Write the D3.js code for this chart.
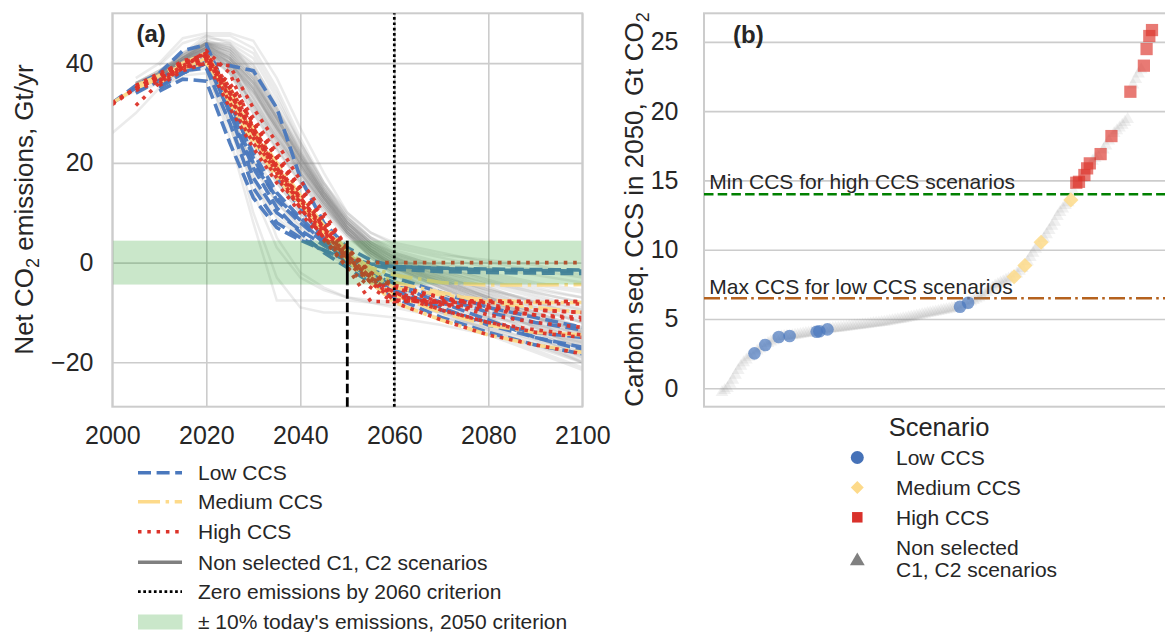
<!DOCTYPE html>
<html><head><meta charset="utf-8">
<script src="https://cdn.jsdelivr.net/npm/d3@7"></script>
<style>
body{margin:0;background:#fff}
svg text{font-family:"Liberation Sans",Arial,Helvetica,sans-serif;fill:#262626}
</style>
</head><body>
<svg id="c" width="1165" height="632"></svg>
<script>
const N = null;
// ---------- Panel (a) data ----------
const years = [2000,2005,2010,2015,2020,2025,2030,2035,2040,2045,2050,2055,2060,2070,2080,2090,2100];
const xTicksA = [2000,2020,2040,2060,2080,2100];
const yTicksA = [-20,0,20,40];
const lowCCS = [
 [N,N,35,38,40,39.5,38.5,31,17,8,3,0.5,-0.8,-1.2,-1.5,-1.6,-1.7],
 [32,35.5,38,42.5,43.7,33,21,12.5,8,4,1,-0.3,-0.8,-1.1,-1.3,-1.4,-1.5],
 [N,N,34.4,36.8,36.4,24,13,7,4.5,2.5,0.5,-2,-4,-7,-10,-12,-13.5],
 [N,34,36.5,39,40.5,30,17,10,6.5,3.5,0.5,-2,-4.5,-8,-11.5,-15,-17.5],
 [N,N,36,39,41,32,22,14,9,4.5,0,-3,-6,-9.5,-12,-14,-15],
 [32,35,37,39,41,30,19,11,6,2,-1,-4,-7,-11,-14,-16.5,-18.3],
 [N,N,35.5,38,40,34,25,17,11,5,1,-1.5,-3,-6,-9,-11,-13],
 [N,34.5,36.5,38.5,39,28,15,8,5,2.5,0.5,-0.5,-1.3,-1.8,-2,-2.1,-2.2],
 [N,N,36,38,40,31,20,13,8.5,4,1,-3,-5.5,-9,-12.5,-15,-17]
];
const mediumCCS = [
 [N,35,37,39.5,41,33,25,18,12,6.5,2,-1,-2.5,-4,-4.5,-4.5,-4.4],
 [32,35,37.5,40,42,34,26,19,13,7,2,-2.5,-5,-6.5,-7.5,-8,-8],
 [N,35.5,37.5,39.5,40.5,32,24,17,11.5,6,1.5,-3,-6.5,-10,-12.5,-14,-14.5],
 [N,N,36,39,41,33,25,18,12,6,0.5,-4,-8,-11.5,-14.5,-16.5,-18],
 [N,35,37,39,40,35,27,20,13.5,7.5,2.5,-1.5,-4,-6,-8,-9,-10]
];
const highCCS = [
 [32,35,37,39.5,42,34,26,18,11,5,1,0,0,0,0,0,0],
 [N,31.5,36,39,41,33,26,19,12,5,-1,-7.8,-7.8,-7.8,-7.8,-7.8,-7.8],
 [N,N,36,39,42.5,38,27,19,13,7,1,-4,-7.5,-8,-8,-8.2,-8.3],
 [N,35,37,40,41,35,28,21,15,9,3,-2,-5,-7,-8.5,-9.5,-10],
 [31.7,35,37.5,40,41.5,32,24,17,11,5,0,-4,-6.5,-8.5,-9.5,-10.5,-11],
 [N,35.5,37,39,40,39.5,31,24,16.5,10,3,-2.5,-5,-8,-10.5,-12,-13],
 [N,N,36.5,39.5,42,33,25,18,12,6,1,-3,-6,-9.5,-12,-14,-15],
 [N,34.5,36.5,39,40.5,31,23,16,10,4.5,-1,-5,-8,-11.5,-14.5,-16.5,-18.3],
 [32,35,37,40,41,35,28,21,14,7,1,-3,-7.6,-7.6,-7.7,-7.8,-7.8],
 [N,35,37.5,40.5,41.5,34,26,19,12.5,6.5,0.5,-3.5,-6,-8.3,-9,-9.5,-10],
 [N,N,35.5,38.5,40,36,29,22,15,8,2,-2,-4.5,-7,-9,-10.5,-11.5],
 [N,35.5,38,40,42,35,27,19.5,13,7,1.5,-3,-6.5,-9.5,-12,-13.5,-14.5]
];
const nonSelected = [
 [N,37,40,45,46,46,44.5,37,27,18,10,6,4,2,0,-1.5,-3],
 [N,N,39.5,44,45.5,45.5,43,35,25,16,9,5,3,1,-1,-2.5,-4],
 [N,35.5,38,41,44,44,41,33,24,16,10,6,3.5,1.5,0.5,-0.5,-2.5],
 [N,N,37.5,41,44.5,43.5,40,31,22,14,8,4,2,-0.5,-2.5,-4.5,-6],
 [N,36,38.5,41.5,45,44.5,42,34,24,15,8,3.5,1,-2,-4,-6,-8],
 [N,N,38,42,45.5,44,38,30,22,15,9,5,2.5,0,-2,-4,-5.5],
 [N,35,37.5,41,44,43,39,31,23,15.5,9,4.5,1.5,-1.5,-4,-6.5,-9],
 [N,N,37,40.5,44,42.5,37,29,21,14,8.5,4.5,2,-1,-3.5,-5.5,-7],
 [N,35.5,38,41,43.5,41,36,28,20,13,7.5,3.5,1,-2,-5,-8,-11],
 [N,N,37,40,43,40,34,27,19.5,13,7,3,0.5,-3,-6,-9,-12],
 [N,35,37.5,40.5,43,41.5,35,26,18,11.5,6,2.5,0,-3.5,-7,-10,-13],
 [N,N,37.5,41,44,41,33,25,18,12,6.5,2,-0.5,-4,-7.5,-11,-14],
 [N,36,38,41,43,39,32,25,19,13,7,3,0.5,-2.5,-5.5,-8,-10],
 [N,N,36.5,40,42.5,40,33,26,19,12,6,2,-1,-4.5,-8,-11.5,-15],
 [N,35.5,37.5,40,42,39.5,34,27,20,13.5,8,4,1.5,-1,-3.5,-6,-8],
 [N,N,37,40.5,43,40.5,35,28,21,14,7.5,3,0,-3.5,-7,-10.5,-14],
 [N,35,37,40,42.5,39,32,24,17,11,5.5,1.5,-1.5,-5,-8.5,-12,-15.5],
 [N,N,37.5,40.5,43.5,41,36,29,21.5,14,7,2.5,-0.5,-4,-7.5,-11,-14.5],
 [N,36,38,41.5,44,40,31,23,16,10,5,1.5,-1,-4,-7,-10,-13],
 [N,N,37,40,42.5,38,30,23,16.5,11,6,2,-1,-5,-9,-13,-17],
 [N,35.5,37.5,40.5,43,40,34,26.5,19,12.5,6.5,2.5,-0.5,-3,-5.5,-7.5,-9.5],
 [N,N,37,40,42,39,33,25.5,18.5,12,6,1.5,-2,-6,-10,-13.5,-16.5],
 [N,35,37,39.5,41.5,38,32,25,18,11.5,5.5,1,-2.5,-6.5,-10.5,-14,-17],
 [N,N,36.5,39.5,42,40,35,27.5,20,13,6.5,2,-1,-4.5,-8,-11,-13.5],
 [N,35.5,38,41,43,39,31,24,17.5,11.5,6,2,-1.5,-5.5,-9.5,-13,-16],
 [N,N,37.5,41,44,42,37,29,21,13.5,7,2.5,-1,-5,-9,-12.5,-15.5],
 [N,36,38,40.5,42.5,38.5,31.5,24.5,18,12,6.5,2.5,-0.5,-3.5,-6.5,-9.5,-12],
 [N,N,36.5,39.5,42,38,30,22.5,16,10.5,5.5,1.5,-2,-6,-10,-14,-18],
 [N,35,37.5,40.5,43,40.5,34.5,27,19.5,12.5,6,1,-2.5,-7,-11,-15,-19],
 [N,N,37,40.5,43.5,41.5,36.5,29,21,13,6,1,-2,-6.5,-11,-15.5,-20],
 [N,35,37,39.5,41,33,24,16,10,5,1,-2.5,-5.5,-10,-14,-17.5,-21],
 [N,N,36,39,40,30,20,12,7,3,0,-3,-6,-10.5,-14.5,-18,-21.5],
 [N,35,37,39,40.5,31,22,14,8.5,4,0.5,-2,-4.5,-8.5,-12.5,-16,-19],
 [32,34.5,36.5,38.5,39.5,28,17,10,5.5,2.5,0,-2.5,-5,-9,-13,-16.5,-20],
 [N,N,35,37.5,38,27,16,9,5,2,-0.5,-3,-6,-10,-13.5,-16.5,-19.5],
 [26,30,35,38,40,32,23,16,10,5,1,-2,-4.5,-8,-11.5,-14.5,-17],
 [N,34,36,38.5,40,30,19,12,7.5,4,1.5,-1,-3.5,-7.5,-11.5,-15,-18.5],
 [N,35,37,39.5,41,34,26,18,11.5,6,1.5,-2,-5,-9.5,-13.5,-17,-20],
 [N,N,36,38,39,25,8,-7.6,-7.6,-7.6,-7.6,-8,-8.5,-10,-12,-14,-16],
 [N,35,37,39,40,28,10,-3,-9,-10,-10,-10.5,-11,-12.5,-14.5,-16.5,-18.5],
 [N,N,36.5,39,40,32,18,5,-2,-5,-7,-8,-9,-11,-13,-15.5,-18],
 [N,35.5,37.5,39.5,40.5,30,14,3,-3,-5.5,-7,-7.5,-8,-9.5,-11,-12.5,-14],
 [N,N,38,42,44.5,43,38,30,22,14.5,8,4,1.5,-1.5,-4.5,-7,-9.5],
 [N,36,38.5,42,44,42,36,28,20.5,13.5,7.5,3.5,1,-2,-5,-8,-10.5],
 [N,N,37.5,41,43.5,42.5,37.5,29.5,22,14.5,8.5,4,1,-2.5,-6,-9,-12],
 [N,35.5,38,41.5,44,43,38.5,31,23,15,8.5,4,1,-3,-7,-11,-15],
 [N,N,37,40.5,43,41,35.5,27.5,20,13,7,3,0,-4,-8,-12,-16],
 [N,36,38,41,43.5,42,37,29,21,13.5,7,2.5,-0.5,-4.5,-8.5,-12.5,-16.5],
 [N,N,38,41.5,44,43.5,39.5,32,24,16,9.5,5,2,-1,-3,-5,-7],
 [N,35,37.5,40.5,43,41,36,28.5,21,14,8,3.5,0.5,-3,-6.5,-10,-13.5],
 [N,N,36.5,40,42.5,40.5,35,27,19.5,12.5,6.5,2,-1,-5,-9,-13,-17.5],
 [N,36,38.5,41.5,44,42.5,38,30.5,22.5,14.5,8,3.5,0.5,-2.5,-5.5,-8.5,-11.5],
 [N,N,37,40,42.5,40,34.5,27,20,13,7,2.5,-0.5,-4,-7.5,-11,-14],
 [N,35.5,38,41,43.5,41.5,36.5,29,21.5,14,7.5,3,0,-3.5,-7,-10.5,-13.5]
];
const bandHalfWidth = 4.4;      // ±10% of today's emissions
const criterionYear = 2050;
const zeroYear = 2060;

// ---------- Panel (b) data ----------
const yTicksB = [0,5,10,15,20,25];
const ccs2050 = [
 -0.3,-0.15,0.0,0.3,0.6,0.95,1.3,1.6,1.85,2.05,
 2.25,2.4,2.52,2.7,2.85,3.0,3.12,3.25,3.35,3.45,
 3.58,3.70,3.72,3.74,3.76,3.77,3.8,3.83,3.86,3.9,
 3.93,3.96,3.99,4.02,4.05,4.08,4.12,4.16,4.2,4.25,
 4.27,4.3,4.32,4.35,4.37,4.4,4.42,4.45,4.47,4.5,
 4.52,4.55,4.58,4.6,4.62,4.65,4.68,4.7,4.72,4.75,
 4.78,4.82,4.85,4.88,4.92,4.95,4.98,5.02,5.05,5.1,
 5.14,5.18,5.22,5.27,5.32,5.36,5.4,5.44,5.48,5.52,
 5.56,5.6,5.64,5.68,5.72,5.76,5.8,5.84,5.88,5.95,
 6.05,6.17,6.25,6.35,6.45,6.55,6.65,6.8,6.95,7.1,
 7.25,7.4,7.5,7.6,7.7,7.8,7.9,7.98,8.05,8.25,
 8.45,8.65,8.86,9.15,9.45,9.75,10.05,10.3,10.54,10.8,
 11.1,11.4,11.7,12.0,12.4,12.7,12.95,13.2,13.4,13.59,
 14.2,14.83,14.9,15.15,15.39,15.87,16.23,16.4,16.6,16.75,
 16.9,17.2,17.5,17.85,18.2,18.4,18.6,18.8,19.0,19.2,
 19.4,21.4,21.9,22.3,22.7,23.0,23.28,24.48,25.42,25.85
];
const lowRanks = [12,16,21,25,35,36,39,88,91];
const mediumRanks = [108,112,118,129];
const highRanks = [131,132,134,135,136,140,144,151,156,157,158,159];
const minHighCCS = 14.0;
const maxLowCCS = 6.5;

// ---------- styles ----------
const BLUE = '#4a78bd', YELLOW = '#fdda8a', RED = '#dc3329', GRAY = '#808080';
const GRID = '#cccccc', TXT = '#262626';
const FS = 21;

const svg = d3.select('#c');

// ================= Panel (a) =================
const A = {l:112.3, r:582.3, t:13.3, b:406.7};
const xA = d3.scaleLinear().domain([2000,2100]).range([A.l,A.r]);
const yA = d3.scaleLinear().domain([-28.9,50]).range([A.b,A.t]);

svg.append('clipPath').attr('id','clipA').append('rect')
  .attr('x',A.l).attr('y',A.t).attr('width',A.r-A.l).attr('height',A.b-A.t);

const gA = svg.append('g');
gA.append('g').attr('transform',`translate(0,${A.b})`)
  .call(d3.axisBottom(xA).tickValues(xTicksA).tickSize(-(A.b-A.t)).tickFormat(''))
  .call(g=>{g.select('.domain').remove(); g.selectAll('line').attr('stroke',GRID).attr('stroke-width',1.6);});
gA.append('g').attr('transform',`translate(${A.l},0)`)
  .call(d3.axisLeft(yA).tickValues(yTicksA).tickSize(-(A.r-A.l)).tickFormat(''))
  .call(g=>{g.select('.domain').remove(); g.selectAll('line').attr('stroke',GRID).attr('stroke-width',1.6);});

const line = d3.line().defined(d=>d!=null).x((d,i)=>xA(years[i])).y(d=>yA(d));
const plotA = gA.append('g').attr('clip-path','url(#clipA)');

plotA.selectAll('.ns').data(nonSelected).join('path')
  .attr('d',line).attr('fill','none').attr('stroke',GRAY).attr('stroke-opacity',0.16).attr('stroke-width',2.5);
plotA.selectAll('.lo').data(lowCCS).join('path')
  .attr('d',line).attr('fill','none').attr('stroke',BLUE).attr('stroke-width',3.6)
  .attr('stroke-dasharray','13,5.6').attr('opacity',0.95);
plotA.selectAll('.me').data(mediumCCS).join('path')
  .attr('d',line).attr('fill','none').attr('stroke',YELLOW).attr('stroke-width',3.6)
  .attr('stroke-dasharray','22,5.6,3.5,5.6').attr('opacity',0.95);
plotA.selectAll('.hi').data(highCCS).join('path')
  .attr('d',line).attr('fill','none').attr('stroke',RED).attr('stroke-width',3.6)
  .attr('stroke-dasharray','3.6,5.8').attr('opacity',0.95);

plotA.append('rect').attr('x',A.l).attr('width',A.r-A.l)
  .attr('y',yA(bandHalfWidth)).attr('height',yA(-bandHalfWidth)-yA(bandHalfWidth))
  .attr('fill','#2ca02c').attr('fill-opacity',0.25);

gA.append('rect').attr('x',A.l).attr('y',A.t).attr('width',A.r-A.l).attr('height',A.b-A.t)
  .attr('fill','none').attr('stroke',GRID).attr('stroke-width',2);

gA.append('line').attr('x1',xA(criterionYear)).attr('x2',xA(criterionYear))
  .attr('y1',A.b).attr('y2',yA(-bandHalfWidth)).attr('stroke','#000').attr('stroke-width',2.8)
  .attr('stroke-dasharray','9.5,4');
gA.append('line').attr('x1',xA(criterionYear)).attr('x2',xA(criterionYear))
  .attr('y1',yA(-bandHalfWidth)).attr('y2',yA(bandHalfWidth)).attr('stroke','#000').attr('stroke-width',2.8);
gA.append('line').attr('x1',xA(zeroYear)).attr('x2',xA(zeroYear))
  .attr('y1',A.b).attr('y2',A.t).attr('stroke','#000').attr('stroke-width',2.7)
  .attr('stroke-dasharray','2.7,2.6');

gA.append('g').attr('transform',`translate(0,${A.b})`)
  .call(d3.axisBottom(xA).tickValues(xTicksA).tickSize(0).tickPadding(19.8).tickFormat(d3.format('d')))
  .call(g=>{g.select('.domain').remove(); g.selectAll('text').attr('font-size',25).attr('fill',TXT);});
gA.append('g').attr('transform',`translate(${A.l},0)`)
  .call(d3.axisLeft(yA).tickValues(yTicksA).tickSize(0).tickPadding(18.8))
  .call(g=>{g.select('.domain').remove(); g.selectAll('text').attr('font-size',25).attr('fill',TXT);});

const yla = gA.append('text').attr('transform','translate(33,209.5) rotate(-90)')
  .attr('text-anchor','middle').attr('font-size',26);
yla.append('tspan').text('Net CO');
yla.append('tspan').text('2').attr('font-size',18).attr('dy',6);
yla.append('tspan').text(' emissions, Gt/yr').attr('dy',-6);

gA.append('text').attr('x',136.5).attr('y',42).attr('font-size',24).attr('font-weight','bold').text('(a)');

const legA = [
  {label:'Low CCS', color:BLUE, dash:'13,5.6', w:3.5},
  {label:'Medium CCS', color:YELLOW, dash:'22,5.6,3.5,5.6', w:3.5},
  {label:'High CCS', color:RED, dash:'3.5,5.8', w:3.5},
  {label:'Non selected C1, C2 scenarios', color:GRAY, dash:null, w:3.5},
  {label:'Zero emissions by 2060 criterion', color:'#000', dash:'2.7,2.6', w:2.7}
];
const legRowsA = [472.7,501.7,531.7,562.3,591.7];
const lg = svg.append('g');
legA.forEach((d,i)=>{
  const yy = legRowsA[i];
  lg.append('line').attr('x1',138).attr('x2',182).attr('y1',yy).attr('y2',yy)
    .attr('stroke',d.color).attr('stroke-width',d.w).attr('stroke-dasharray',d.dash);
  lg.append('text').attr('x',198).attr('y',yy+7.5).attr('font-size',FS).text(d.label);
});
lg.append('rect').attr('x',138).attr('y',614.5).attr('width',44.5).attr('height',15)
  .attr('fill','#2ca02c').attr('fill-opacity',0.25);
lg.append('text').attr('x',198).attr('y',629.2).attr('font-size',FS).text("± 10% today's emissions, 2050 criterion");

// ================= Panel (b) =================
const B = {l:704, r:1167, t:13.3, b:406.7};
const yB = d3.scaleLinear().domain([-1.33,27.06]).range([B.b,B.t]);
const xB = d3.scaleLinear().domain([0,ccs2050.length-1]).range([722,1152]);
const gB = svg.append('g');

gB.append('g').attr('transform',`translate(${B.l},0)`)
  .call(d3.axisLeft(yB).tickValues(yTicksB).tickSize(-(B.r-B.l)).tickFormat(''))
  .call(g=>{g.select('.domain').remove(); g.selectAll('line').attr('stroke',GRID).attr('stroke-width',1.6);});
gB.append('rect').attr('x',B.l).attr('y',B.t).attr('width',B.r-B.l).attr('height',B.b-B.t)
  .attr('fill','none').attr('stroke',GRID).attr('stroke-width',2);

gB.append('line').attr('x1',B.l).attr('x2',B.r).attr('y1',yB(minHighCCS)).attr('y2',yB(minHighCCS))
  .attr('stroke','#008000').attr('stroke-width',2.6).attr('stroke-dasharray','9.5,4.2');
gB.append('line').attr('x1',B.l).attr('x2',B.r).attr('y1',yB(maxLowCCS)).attr('y2',yB(maxLowCCS))
  .attr('stroke','#b5621e').attr('stroke-width',2.6).attr('stroke-dasharray','16,4.2,2.6,4.2');

const tri = d3.symbol().type(d3.symbolTriangle).size(70);
const selected = new Set([...lowRanks,...mediumRanks,...highRanks]);
gB.selectAll('.tri').data(ccs2050.map((v,i)=>({v,i})).filter(d=>!selected.has(d.i))).join('path')
  .attr('d',tri).attr('transform',d=>`translate(${xB(d.i)},${yB(d.v)})`)
  .attr('fill',GRAY).attr('fill-opacity',0.11);

gB.selectAll('.lo').data(lowRanks).join('circle')
  .attr('cx',d=>xB(d)).attr('cy',d=>yB(ccs2050[d])).attr('r',6.3)
  .attr('fill',BLUE).attr('fill-opacity',0.7);
const sq = d3.symbol().type(d3.symbolSquare);
gB.selectAll('.me').data(mediumRanks).join('path')
  .attr('d',sq.size(115)()).attr('transform',d=>`translate(${xB(d)},${yB(ccs2050[d])}) rotate(45)`)
  .attr('fill',YELLOW).attr('fill-opacity',0.85);
gB.selectAll('.hi').data(highRanks).join('path')
  .attr('d',sq.size(150)()).attr('transform',d=>`translate(${xB(d)},${yB(ccs2050[d])})`)
  .attr('fill',RED).attr('fill-opacity',0.65);

gB.append('text').attr('x',709.3).attr('y',189).attr('font-size',FS).text('Min CCS for high CCS scenarios');
gB.append('text').attr('x',709.3).attr('y',294.3).attr('font-size',FS).text('Max CCS for low CCS scenarios');

gB.append('g').attr('transform',`translate(${B.l},0)`)
  .call(d3.axisLeft(yB).tickValues(yTicksB).tickSize(0).tickPadding(25.5))
  .call(g=>{g.select('.domain').remove(); g.selectAll('text').attr('font-size',25).attr('fill',TXT);});

const ylb = gB.append('text').attr('transform','translate(643,209.5) rotate(-90)')
  .attr('text-anchor','middle').attr('font-size',26);
ylb.append('tspan').text('Carbon seq. CCS in 2050, Gt CO');
ylb.append('tspan').text('2').attr('font-size',18).attr('dy',6);

gB.append('text').attr('x',733).attr('y',43).attr('font-size',24).attr('font-weight','bold').text('(b)');

const lb = svg.append('g');
lb.append('text').attr('x',939).attr('y',436).attr('text-anchor','middle').attr('font-size',25.5).text('Scenario');
lb.append('circle').attr('cx',857.3).attr('cy',457.5).attr('r',6.5).attr('fill','#4672b8');
lb.append('text').attr('x',896).attr('y',465).attr('font-size',FS).text('Low CCS');
lb.append('path').attr('d',sq.size(84)()).attr('transform','translate(857.3,487.5) rotate(45)').attr('fill',YELLOW);
lb.append('text').attr('x',896).attr('y',494.5).attr('font-size',FS).text('Medium CCS');
lb.append('path').attr('d',sq.size(110)()).attr('transform','translate(857.3,517.3)').attr('fill','#d9312b');
lb.append('text').attr('x',896).attr('y',524.5).attr('font-size',FS).text('High CCS');
lb.append('path').attr('d',d3.symbol().type(d3.symbolTriangle).size(95)()).attr('transform','translate(857.3,561)').attr('fill',GRAY);
lb.append('text').attr('x',896).attr('y',554.5).attr('font-size',FS).text('Non selected');
lb.append('text').attr('x',896).attr('y',576.5).attr('font-size',FS).text('C1, C2 scenarios');
</script>
</body></html>
